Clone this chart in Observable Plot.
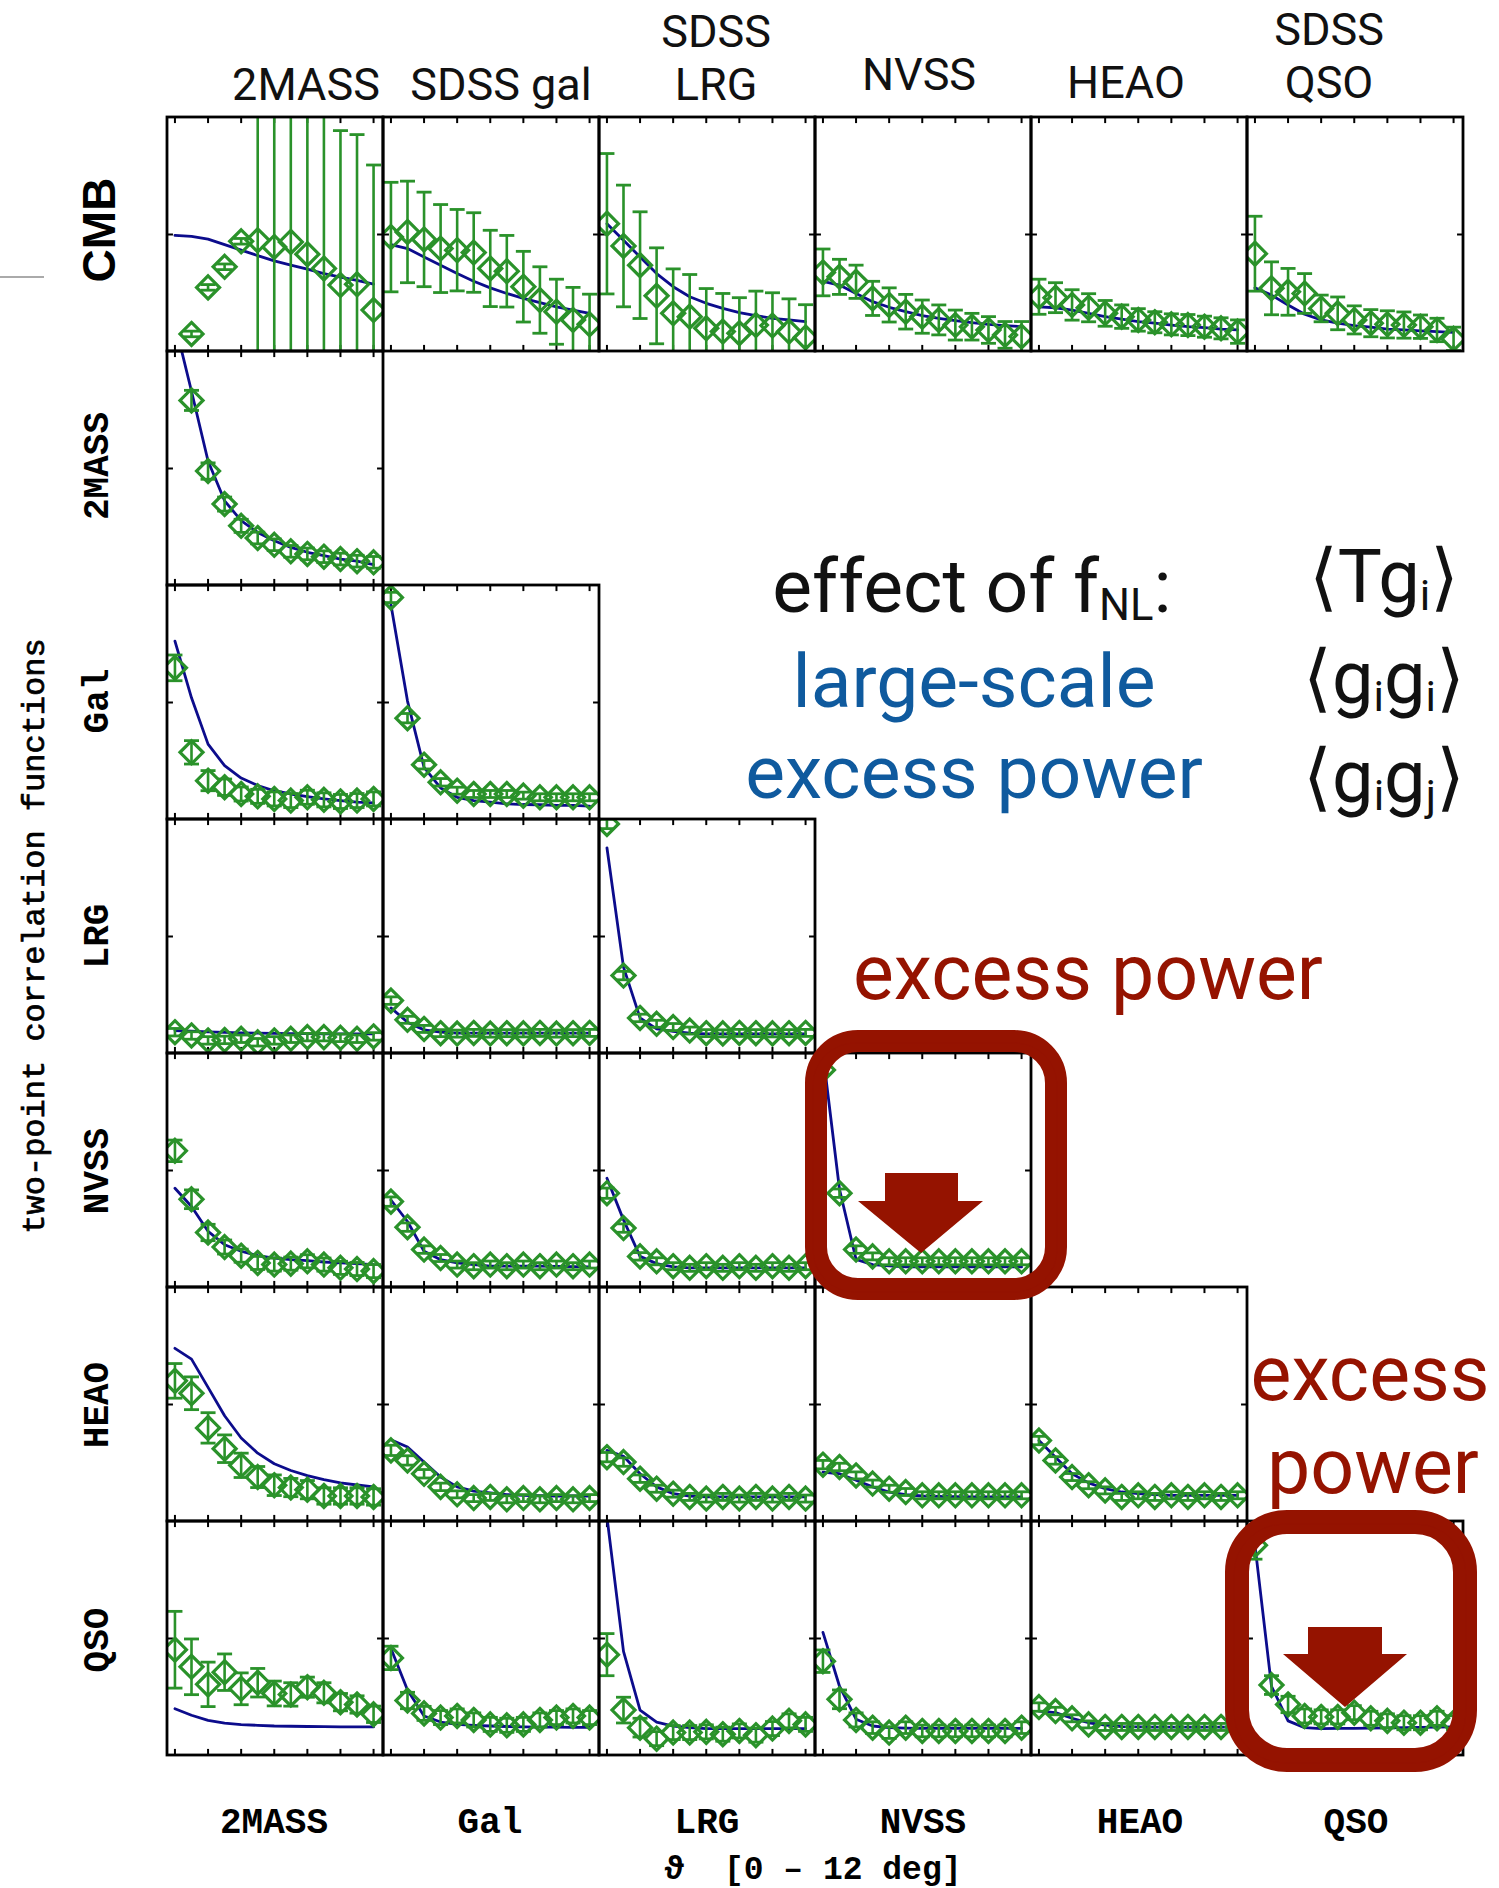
<!DOCTYPE html>
<html>
<head>
<meta charset="utf-8">
<script src="https://cdn.jsdelivr.net/npm/d3@7"></script>
<script src="https://cdn.jsdelivr.net/npm/@observablehq/plot@0.6"></script>
<style>
  html, body { margin: 0; padding: 0; background: #fff; }
  #wrap { position: relative; width: 1499px; height: 1888px; overflow: hidden; background: #fff; }
  #wrap > svg { position: absolute; left: 0; top: 0; }
</style>
</head>
<body>
<div id="wrap"></div>
<script>
// ---------------- data (values in panel-relative units: 0 = bottom, 1 = top) ----------------
const rows = ["CMB", "2MASS", "Gal", "LRG", "NVSS", "HEAO", "QSO"];
const cols = ["2MASS", "SDSS gal", "SDSS LRG", "NVSS", "HEAO", "SDSS QSO"];
const colHeaders = [["2MASS"], ["SDSS gal"], ["SDSS", "LRG"], ["NVSS"], ["HEAO"], ["SDSS", "QSO"]];
const rowLabels = ["CMB", "2MASS", "Gal", "LRG", "NVSS", "HEAO", "QSO"];
const bottomLabels = ["2MASS", "Gal", "LRG", "NVSS", "HEAO", "QSO"];
const theta = [0, 1, 2, 3, 4, 5, 6, 7, 8, 9, 10, 11, 12];   // deg
const xTicks = [0, 2, 4, 6, 8, 10, 12];
const yTicks = [0.5];

// row CMB : <T g_i>
const obs_CMB = [
  [null, .075, .274, .362, .471, .475, .447, .468, .416, .355, .284, .287, .177],
  [.489, .511, .479, .440, .433, .423, .355, .343, .277, .220, .170, .135, .116],
  [.546, .451, .369, .238, .163, .149, .099, .085, .078, .113, .111, .085, .060],
  [.338, .319, .298, .227, .199, .170, .149, .135, .113, .106, .092, .071, .064],
  [.234, .230, .199, .187, .163, .149, .135, .125, .116, .113, .106, .099, .085],
  [.418, .270, .255, .248, .184, .163, .135, .121, .116, .113, .106, .092, .054]
];
const err_CMB = [
  [null, .012, .012, .012, .012, 1.2, 1.2, 1.2, 1.2, 1.2, .66, .64, .62],
  [.234, .217, .202, .188, .174, .170, .163, .153, .151, .142, .139, .139, .129],
  [.300, .260, .228, .205, .190, .180, .170, .163, .152, .145, .140, .140, .140],
  [.100, .075, .071, .073, .073, .074, .071, .064, .064, .057, .057, .057, .064],
  [.075, .064, .065, .060, .055, .050, .048, .045, .045, .045, .045, .045, .050],
  [.160, .113, .100, .085, .057, .070, .060, .058, .058, .056, .050, .050, .050]
];
const mod_CMB = [
  [.496, .492, .480, .457, .433, .410, .387, .369, .352, .333, .318, .304, .288],
  [.457, .440, .404, .369, .333, .300, .272, .248, .227, .209, .191, .177, .163],
  [.546, .475, .404, .333, .277, .234, .206, .184, .166, .153, .142, .135, .128],
  [.300, .284, .248, .213, .189, .170, .153, .142, .132, .123, .116, .111, .106],
  [.191, .187, .177, .163, .149, .138, .128, .121, .113, .106, .102, .096, .092],
  [.272, .241, .199, .159, .135, .121, .111, .104, .096, .092, .088, .085, .082]
];

// row 2MASS
const obs_2MASS = [[null, .791, .489, .348, .255, .203, .174, .146, .135, .123, .113, .104, .099]];
const err_2MASS = [[null, .043, .035, .030, .028, .025, .025, .025, .025, .025, .025, .025, .025]];
const mod_2MASS = [[1.12, .830, .532, .362, .277, .227, .191, .163, .142, .128, .113, .104, .089]];

// row Gal
const obs_Gal = [
  [.648, .287, .166, .138, .109, .099, .088, .081, .095, .084, .077, .081, .088],
  [.949, .433, .234, .159, .123, .109, .109, .109, .102, .095, .095, .095, .095]
];
const err_Gal = [
  [.055, .050, .043, .035, .030, .030, .030, .030, .030, .030, .030, .030, .030],
  [.022, .020, .018, .016, .015, .015, .015, .015, .015, .015, .015, .015, .015]
];
const mod_Gal = [
  [.762, .520, .322, .230, .177, .145, .123, .109, .098, .088, .081, .074, .071],
  [.918, .506, .223, .135, .095, .081, .074, .067, .064, .063, .060, .060, .057]
];

// row LRG
const obs_LRG = [
  [.091, .077, .056, .058, .063, .048, .056, .063, .070, .070, .067, .063, .073],
  [.226, .144, .105, .087, .085, .088, .085, .087, .086, .088, .085, .087, .088],
  [.981, .333, .152, .127, .113, .098, .087, .086, .088, .087, .086, .087, .088]
];
const err_LRG = [
  [.016, .016, .016, .016, .016, .016, .016, .016, .016, .016, .016, .016, .016],
  [.016, .015, .015, .015, .015, .015, .015, .015, .015, .015, .015, .015, .015],
  [.020, .018, .016, .015, .015, .015, .015, .015, .015, .015, .015, .015, .015]
];
const mod_LRG = [
  [.098, .095, .092, .090, .088, .087, .086, .085, .085, .084, .084, .084, .084],
  [.195, .134, .101, .091, .087, .087, .087, .087, .087, .087, .087, .087, .087],
  [.879, .369, .152, .105, .095, .087, .084, .084, .084, .084, .084, .084, .084]
];

// row NVSS
const obs_NVSS = [
  [.584, .377, .235, .173, .136, .105, .098, .102, .112, .098, .084, .079, .070],
  [.367, .258, .162, .126, .098, .091, .098, .091, .098, .091, .098, .091, .098],
  [.403, .254, .133, .112, .091, .084, .091, .084, .091, .084, .091, .084, .091],
  [.930, .403, .162, .133, .112, .112, .112, .112, .112, .112, .112, .112, .112]
];
const err_NVSS = [
  [.046, .040, .035, .030, .028, .028, .028, .028, .028, .028, .028, .028, .028],
  [.020, .018, .016, .015, .015, .015, .015, .015, .015, .015, .015, .015, .015],
  [.022, .018, .016, .015, .015, .015, .015, .015, .015, .015, .015, .015, .015],
  [.020, .018, .016, .015, .015, .015, .015, .015, .015, .015, .015, .015, .015]
];
const mod_NVSS = [
  [.424, .346, .240, .183, .155, .136, .126, .119, .115, .109, .105, .102, .098],
  [.374, .282, .155, .119, .105, .098, .091, .091, .091, .091, .090, .089, .088],
  [.467, .289, .133, .102, .088, .084, .084, .084, .084, .084, .084, .084, .084],
  [1.00, .420, .120, .098, .092, .088, .088, .088, .088, .088, .088, .088, .088]
];

// row HEAO
const obs_HEAO = [
  [.601, .548, .400, .311, .240, .190, .155, .145, .136, .109, .109, .109, .105],
  [.304, .261, .204, .148, .116, .100, .105, .095, .100, .095, .100, .095, .100],
  [.275, .254, .183, .140, .119, .105, .098, .105, .098, .105, .098, .105, .098],
  [.243, .233, .197, .162, .140, .126, .112, .112, .112, .112, .112, .112, .112],
  [.346, .261, .190, .155, .133, .105, .112, .105, .112, .105, .112, .105, .112]
];
const err_HEAO = [
  [.074, .070, .065, .059, .052, .045, .044, .039, .039, .035, .035, .035, .035],
  [.022, .020, .018, .016, .015, .015, .015, .015, .015, .015, .015, .015, .015],
  [.020, .018, .016, .015, .015, .015, .015, .015, .015, .015, .015, .015, .015],
  [.018, .016, .015, .015, .015, .015, .015, .015, .015, .015, .015, .015, .015],
  [.018, .016, .015, .015, .015, .015, .015, .015, .015, .015, .015, .015, .015]
];
const mod_HEAO = [
  [.740, .694, .573, .452, .357, .292, .247, .218, .196, .179, .165, .156, .148],
  [.349, .318, .254, .190, .148, .130, .122, .115, .112, .110, .109, .109, .109],
  [.304, .279, .204, .148, .119, .109, .105, .105, .105, .105, .105, .105, .105],
  [.211, .204, .176, .148, .126, .115, .109, .107, .106, .105, .105, .105, .105],
  [.346, .275, .204, .165, .140, .126, .119, .115, .112, .112, .112, .112, .112]
];

// row QSO
const obs_QSO = [
  [.452, .379, .304, .356, .285, .311, .265, .261, .292, .268, .228, .218, .176],
  [.417, .235, .180, .162, .169, .152, .133, .129, .133, .152, .162, .169, .162],
  [.431, .194, .119, .072, .098, .098, .101, .091, .105, .087, .115, .148, .133],
  [.403, .240, .152, .119, .098, .119, .105, .105, .105, .105, .105, .105, .119],
  [.207, .190, .159, .133, .122, .122, .122, .122, .122, .122, .122, .122, .122],
  [.899, .301, .218, .169, .165, .165, .183, .159, .148, .140, .140, .159, .140]
];
const err_QSO = [
  [.164, .119, .095, .078, .068, .061, .053, .050, .043, .043, .037, .037, .035],
  [.050, .035, .030, .030, .030, .030, .030, .030, .030, .030, .030, .030, .030],
  [.090, .055, .040, .030, .030, .030, .030, .030, .030, .030, .030, .030, .030],
  [.048, .040, .030, .025, .025, .025, .025, .025, .025, .025, .025, .025, .025],
  [.018, .016, .015, .015, .015, .015, .015, .015, .015, .015, .015, .015, .015],
  [.060, .040, .035, .030, .030, .030, .030, .030, .030, .030, .030, .030, .030]
];
const mod_QSO = [
  [.200, .172, .150, .138, .132, .129, .126, .125, .124, .123, .122, .122, .122],
  [.457, .280, .169, .143, .133, .129, .126, .124, .122, .121, .121, .120, .120],
  [1.02, .445, .194, .143, .126, .119, .115, .115, .115, .115, .115, .115, .115],
  [.526, .296, .155, .126, .119, .117, .116, .116, .116, .116, .116, .116, .116],
  [.190, .183, .159, .140, .130, .123, .122, .121, .121, .121, .121, .121, .121],
  [.899, .296, .148, .119, .115, .116, .116, .117, .118, .119, .120, .121, .122]
];

const series = [
  [obs_CMB, err_CMB, mod_CMB],
  [obs_2MASS, err_2MASS, mod_2MASS],
  [obs_Gal, err_Gal, mod_Gal],
  [obs_LRG, err_LRG, mod_LRG],
  [obs_NVSS, err_NVSS, mod_NVSS],
  [obs_HEAO, err_HEAO, mod_HEAO],
  [obs_QSO, err_QSO, mod_QSO]
];

// ---------------- build tables ----------------
const panels = [];
const points = [];
rows.forEach((r, ri) => {
  const [O, E, M] = series[ri];
  O.forEach((arr, ci) => {
    const col = cols[ci];
    panels.push({row: r, col});
    theta.forEach((t, i) => points.push({row: r, col, x: t, v: arr[i], e: E[ci][i], m: M[ci][i]}));
  });
});
const obsPts = points.filter(d => d.v != null);
const modPts = points.filter(d => d.m != null);
const xTickPts = panels.flatMap(p => xTicks.map(x => ({...p, x})));
const yTickPts = panels.flatMap(p => yTicks.map(y => ({...p, y})));

// ---------------- styling ----------------
const GREEN = "#2a922a";
const NAVY = "#0c0c8c";
const xDomain = [-0.45, 12.6];
const tickLenY = 0.026;   // ~6px inward
const tickLenX = 0.36;

const diamond = {
  draw(ctx, size) {
    const r = Math.sqrt(size / Math.PI);
    ctx.moveTo(0, -r); ctx.lineTo(r, 0); ctx.lineTo(0, r); ctx.lineTo(-r, 0); ctx.closePath();
  }
};
const cap = {
  draw(ctx, size) {
    const r = Math.sqrt(size / Math.PI);
    ctx.moveTo(-r, 0); ctx.lineTo(r, 0);
  }
};

const fc = {fx: "col", fy: "row"};

const chart = Plot.plot({
  width: 1499,
  height: 1888,
  marginLeft: 166,
  marginRight: 35,
  marginTop: 114,
  marginBottom: 130,
  style: {background: "transparent", overflow: "visible"},
  x: {domain: xDomain, axis: null},
  y: {domain: [0, 1], axis: null},
  fx: {domain: cols, padding: 0, axis: null},
  fy: {domain: rows, padding: 0, axis: null},
  marks: [
    // tick marks (inward, on all four sides)
    Plot.ruleX(xTickPts, {...fc, x: "x", y1: () => 0, y2: () => tickLenY, stroke: "#000", strokeWidth: 2}),
    Plot.ruleX(xTickPts, {...fc, x: "x", y1: () => 1, y2: () => 1 - tickLenY, stroke: "#000", strokeWidth: 2}),
    Plot.ruleY(yTickPts, {...fc, y: "y", x1: () => xDomain[0], x2: () => xDomain[0] + tickLenX, stroke: "#000", strokeWidth: 2}),
    Plot.ruleY(yTickPts, {...fc, y: "y", x1: () => xDomain[1], x2: () => xDomain[1] - tickLenX, stroke: "#000", strokeWidth: 2}),
    // model curves
    Plot.line(modPts, {...fc, x: "x", y: "m", stroke: NAVY, strokeWidth: 2.8, clip: true}),
    // error bars
    Plot.ruleX(obsPts, {...fc, x: "x", y1: d => d.v - d.e, y2: d => d.v + d.e, stroke: GREEN, strokeWidth: 2.6, clip: true}),
    Plot.dot(obsPts, {...fc, x: "x", y: d => d.v + d.e, symbol: cap, r: 7.5, fill: "none", stroke: GREEN, strokeWidth: 2.8, clip: true}),
    Plot.dot(obsPts, {...fc, x: "x", y: d => d.v - d.e, symbol: cap, r: 7.5, fill: "none", stroke: GREEN, strokeWidth: 2.8, clip: true}),
    // data diamonds
    Plot.dot(obsPts, {...fc, x: "x", y: "v", symbol: diamond, r: 11.5, fill: "none", stroke: GREEN, strokeWidth: 3.2, clip: true}),
    // panel frames
    Plot.rect(panels, {...fc, x1: () => xDomain[0], x2: () => xDomain[1], y1: () => 0, y2: () => 1,
      fill: "none", stroke: "#000", strokeWidth: 2.8})
  ]
});
document.getElementById("wrap").appendChild(chart);

// ---------------- labels & annotations (overlay) ----------------
const W = 1499, H = 1888;
const ov = d3.select("#wrap").append("svg")
  .attr("width", W).attr("height", H).attr("viewBox", `0 0 ${W} ${H}`)
  .style("pointer-events", "none");

const SANS = "Roboto, 'Liberation Sans', Arial, sans-serif";
const SANSB = "'Liberation Sans', Arial, Helvetica, sans-serif";
const MONO = "'Liberation Mono', 'Courier New', monospace";
const RED = "#951300";
const BLUE = "#0f5a9e";

// slide artifact line at far left
ov.append("line").attr("x1", 0).attr("x2", 44).attr("y1", 277).attr("y2", 277)
  .attr("stroke", "#aaa").attr("stroke-width", 2);

// column headers
const colCenters = [306, 501, 716, 919, 1126, 1329];
const colBase = [100, 100, 100, 90, 98, 98];
colHeaders.forEach((lines, i) => {
  lines.forEach((t, j) => {
    ov.append("text").attr("x", colCenters[i])
      .attr("y", colBase[i] - (lines.length - 1 - j) * 53)
      .attr("text-anchor", "middle").attr("font-family", SANS).attr("font-weight", 400)
      .attr("font-size", 45).attr("fill", "#111").text(t);
  });
});

// row labels (rotated)
const rowCenters = [230, 466, 701, 936, 1171, 1405, 1640];
rowLabels.forEach((t, i) => {
  const isCMB = i === 0;
  ov.append("text")
    .attr("transform", `translate(${isCMB ? 115 : 108},${rowCenters[i]}) rotate(-90)`)
    .attr("text-anchor", "middle")
    .attr("font-family", isCMB ? SANSB : MONO)
    .attr("font-weight", "bold")
    .attr("font-size", isCMB ? 46 : 36)
    .attr("fill", "#000").text(t);
});

// y-axis title
ov.append("text").attr("transform", "translate(44,936) rotate(-90)")
  .attr("text-anchor", "middle").attr("font-family", MONO).attr("font-size", 32)
  .attr("stroke", "#000").attr("stroke-width", 0.7)
  .attr("fill", "#000").text("two-point correlation functions");

// bottom labels
const botCenters = [274, 490, 707, 923, 1140, 1356];
bottomLabels.forEach((t, i) => {
  ov.append("text").attr("x", botCenters[i]).attr("y", 1833)
    .attr("text-anchor", "middle").attr("font-family", MONO).attr("font-weight", "bold")
    .attr("font-size", 36).attr("fill", "#000").text(t);
});
ov.append("text").attr("x", 813).attr("y", 1879).attr("text-anchor", "middle")
  .attr("font-family", MONO).attr("font-weight", "bold").attr("font-size", 33)
  .attr("fill", "#000").attr("xml:space", "preserve").text("\u03D1  [0 \u2013 12 deg]");

// explanation text
function richText(x, y, size, color, parts, anchor = "middle") {
  const t = ov.append("text").attr("x", x).attr("y", y).attr("text-anchor", anchor)
    .attr("font-family", SANS).attr("font-weight", 400).attr("font-size", size).attr("fill", color);
  let shifted = false;
  parts.forEach(([s, isSub]) => {
    const ts = t.append("tspan").text(s);
    if (s.includes("\u27E8") || s.includes("\u27E9")) ts.attr("font-family", "'DejaVu Sans', sans-serif").attr("font-weight", 200);
    if (isSub) { ts.attr("font-size", size * 0.58).attr("dy", shifted ? 0 : 8); shifted = true; }
    else if (shifted) { ts.attr("dy", -8); shifted = false; }
  });
  return t;
}
richText(972, 612, 75, "#111", [["effect of f"], ["NL", true], [":"]]);
richText(974, 707, 75, BLUE, [["large-scale"]]);
richText(974, 798, 75, BLUE, [["excess power"]]);
richText(1384, 602, 74, "#111", [["\u27E8"], ["Tg"], ["i", true], ["\u27E9"]]);
richText(1384, 703, 74, "#111", [["\u27E8"], ["g"], ["i", true], ["g"], ["i", true], ["\u27E9"]]);
richText(1384, 802, 74, "#111", [["\u27E8"], ["g"], ["i", true], ["g"], ["j", true], ["\u27E9"]]);

// red annotations
richText(1088, 999, 77, RED, [["excess power"]]);
richText(1370, 1400, 77, RED, [["excess"]]);
richText(1373, 1493, 77, RED, [["power"]]);

// hand-drawn style boxes
function box(x, y, w, h, r, sw) {
  ov.append("rect").attr("x", x).attr("y", y).attr("width", w).attr("height", h)
    .attr("rx", r).attr("ry", r).attr("fill", "none").attr("stroke", RED)
    .attr("stroke-width", sw).attr("stroke-linejoin", "round");
  ov.append("rect").attr("x", x - 3).attr("y", y + 2).attr("width", w + 4).attr("height", h + 1)
    .attr("rx", r).attr("ry", r).attr("fill", "none").attr("stroke", RED)
    .attr("stroke-width", 1).attr("stroke-opacity", 0.6);
}
box(816, 1041, 240, 248, 42, 22);
box(1237, 1522, 228, 238, 50, 24);

// arrows
function arrow(pts) {
  ov.append("polygon").attr("points", pts.map(p => p.join(",")).join(" ")).attr("fill", RED);
}
arrow([[885, 1173], [958, 1173], [958, 1201], [983, 1201], [921, 1253], [858, 1201], [885, 1201]]);
arrow([[1308, 1627], [1382, 1627], [1382, 1654], [1407, 1654], [1345, 1707], [1283, 1654], [1308, 1654]]);
</script>
</body>
</html>
